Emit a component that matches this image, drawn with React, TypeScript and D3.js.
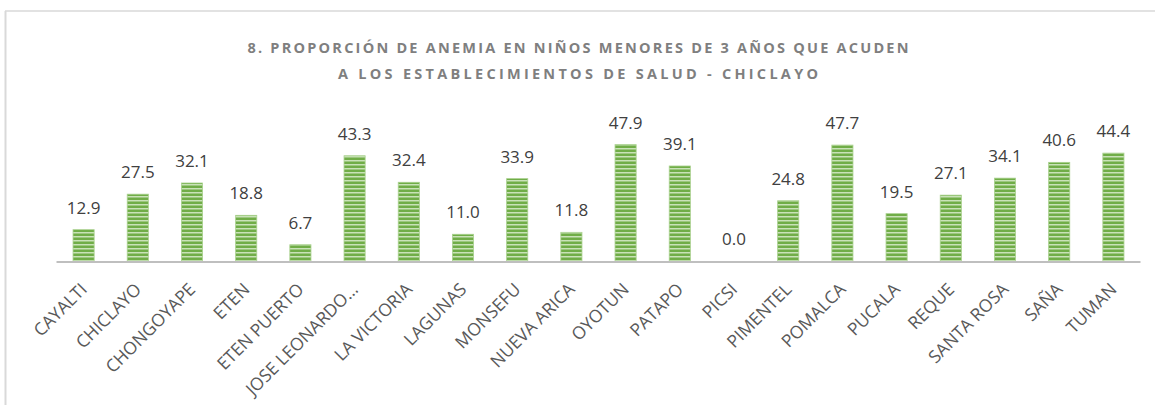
import React, { useEffect, useRef } from "react";
import * as d3 from "d3";

const categories = [
  "CAYALTI", "CHICLAYO", "CHONGOYAPE", "ETEN", "ETEN PUERTO", "JOSE LEONARDO…",
  "LA VICTORIA", "LAGUNAS", "MONSEFU", "NUEVA ARICA", "OYOTUN", "PATAPO",
  "PICSI", "PIMENTEL", "POMALCA", "PUCALA", "REQUE", "SANTA ROSA", "SAÑA", "TUMAN",
];
const values = [
  12.9, 27.5, 32.1, 18.8, 6.7, 43.3, 32.4, 11.0, 33.9, 11.8, 47.9, 39.1,
  0.0, 24.8, 47.7, 19.5, 27.1, 34.1, 40.6, 44.4,
];
const titleLines = [
  "8. PROPORCIÓN DE ANEMIA EN NIÑOS MENORES DE 3 AÑOS QUE ACUDEN",
  "A LOS ESTABLECIMIENTOS DE SALUD - CHICLAYO",
];

const W = 1155;
const H = 405;
const font = "'Open Sans', 'Noto Sans', sans-serif";

const App = () => {
  const ref = useRef<SVGSVGElement | null>(null);

  useEffect(() => {
    const svg = d3.select(ref.current);
    svg.selectAll("*").remove();

    // stripe fill like the Excel pattern
    const defs = svg.append("defs");
    const pat = defs
      .append("pattern")
      .attr("id", "stripes")
      .attr("patternUnits", "userSpaceOnUse")
      .attr("width", 8)
      .attr("height", 4);
    pat.append("rect").attr("width", 8).attr("height", 4).attr("fill", "#c9e2b8");
    pat.append("rect").attr("y", 1.5).attr("width", 8).attr("height", 2.5).attr("fill", "#70ad47");

    // chart frame (top + left visible)
    svg.append("line").attr("x1", 5).attr("x2", W).attr("y1", 11).attr("y2", 11)
      .attr("stroke", "#d9d9d9").attr("stroke-width", 1.5);
    svg.append("line").attr("x1", 5.5).attr("x2", 5.5).attr("y1", 11).attr("y2", H)
      .attr("stroke", "#d9d9d9").attr("stroke-width", 2);

    // title
    const titleWidths = [661, 480];
    titleLines.forEach((t, i) => {
      svg.append("text")
        .attr("x", 578)
        .attr("y", 53 + i * 26)
        .attr("text-anchor", "middle")
        .attr("textLength", titleWidths[i])
        .attr("lengthAdjust", "spacing")
        .style("font-family", font)
        .style("font-weight", "bold")
        .style("font-size", "14.5px")
        .attr("fill", "#7f7f7f")
        .text(t);
    });

    const x = d3.scaleBand().domain(categories).range([56.5, 1140.5]).paddingInner(0.61).paddingOuter(0.305);
    const y = d3.scaleLinear().domain([0, 50]).range([261, 139.5]);

    const g = svg.append("g");

    g.selectAll("rect.bar")
      .data(values)
      .enter()
      .append("rect")
      .attr("class", "bar")
      .attr("x", (d, i) => x(categories[i])!)
      .attr("y", (d) => y(d))
      .attr("width", x.bandwidth())
      .attr("height", (d) => y(0) - y(d))
      .attr("fill", "url(#stripes)")
      .attr("stroke", "#a9d18e")
      .attr("stroke-width", d => (d > 0 ? 0.8 : 0));

    // axis line
    g.append("line")
      .attr("x1", 56.5).attr("x2", 1140.5)
      .attr("y1", y(0) + 1).attr("y2", y(0) + 1)
      .attr("stroke", "#bfbfbf").attr("stroke-width", 2);

    // data labels
    g.selectAll("text.val")
      .data(values)
      .enter()
      .append("text")
      .attr("class", "val")
      .attr("x", (d, i) => x(categories[i])! + x.bandwidth() / 2)
      .attr("y", (d) => y(d) - 16)
      .attr("text-anchor", "middle")
      .style("font-family", font)
      .style("font-size", "17px")
      .attr("fill", "#404040")
      .text((d) => d3.format(".1f")(d));

    // category labels, rotated -45 and ending under the bar
    g.selectAll("text.cat")
      .data(categories)
      .enter()
      .append("text")
      .attr("class", "cat")
      .attr("transform", (d) => `translate(${x(d)! + x.bandwidth() / 2 + 4.5},${290.5}) rotate(-45)`)
      .attr("text-anchor", "end")
      .style("font-family", font)
      .style("font-size", "17.5px")
      .attr("fill", "#595959")
      .text((d) => d);
  }, []);

  return (
    <svg
      ref={ref}
      width={W}
      height={H}
      style={{ display: "block", position: "absolute", left: 0, top: 0, background: "#fff" }}
    />
  );
};

export default App;
